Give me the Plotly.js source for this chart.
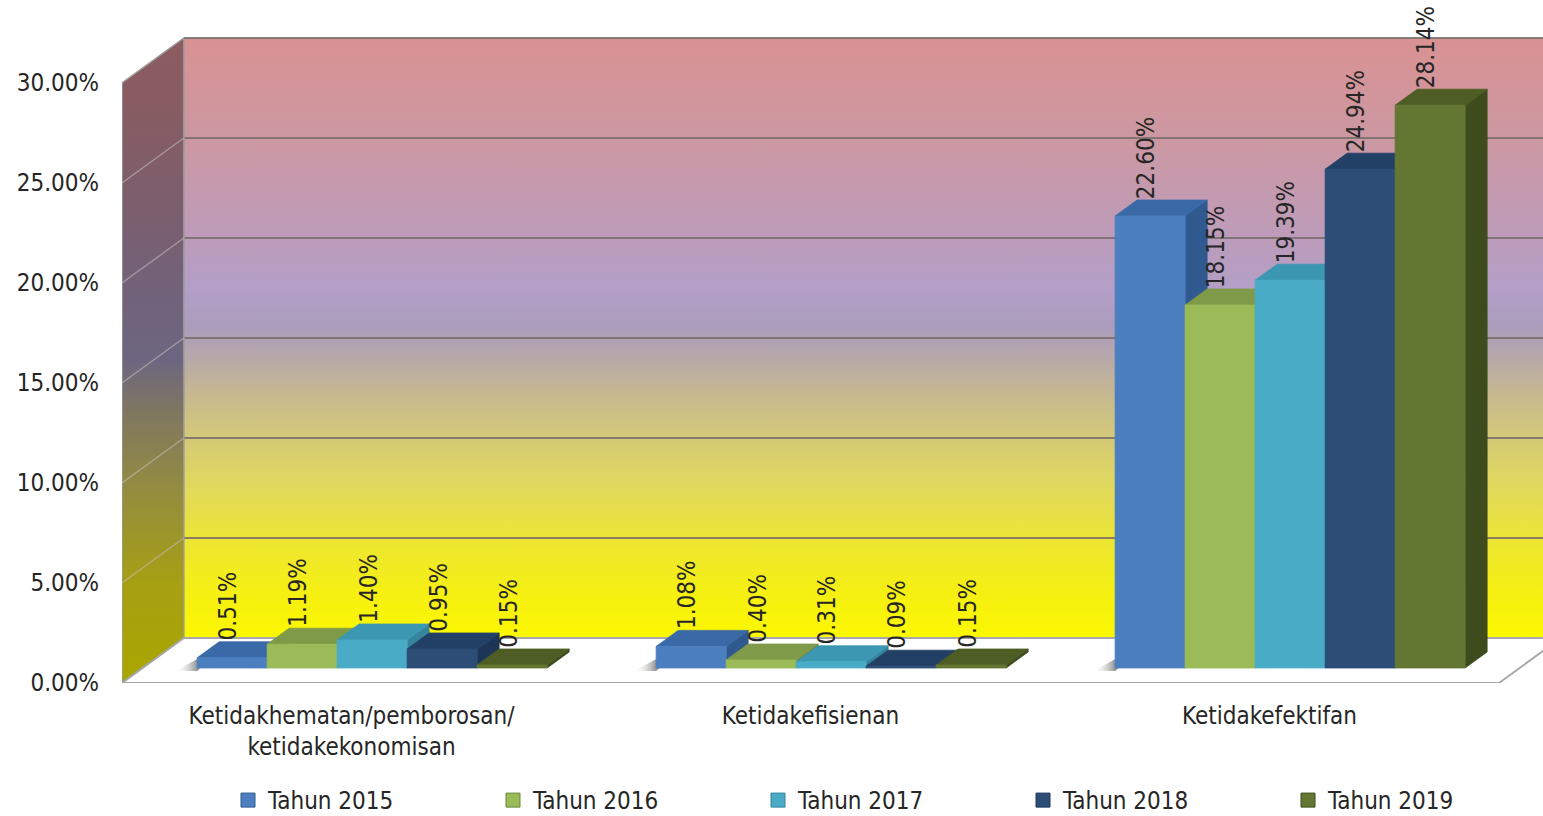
<!DOCTYPE html>
<html>
<head>
<meta charset="utf-8">
<script src="https://cdn.plot.ly/plotly-3.0.1.min.js"></script>
<style>
  html, body { margin: 0; padding: 0; background: #ffffff; }
  #chart { width: 1543px; height: 816px; }
</style>
</head>
<body>
<div id="chart"></div>
<script>
// ---- data ----
const categories = ['Ketidakhematan/pemborosan/<br>ketidakekonomisan', 'Ketidakefisienan', 'Ketidakefektifan'];
const seriesNames = ['Tahun 2015', 'Tahun 2016', 'Tahun 2017', 'Tahun 2018', 'Tahun 2019'];
const tahun2015 = [0.51, 1.08, 22.60];
const tahun2016 = [1.19, 0.40, 18.15];
const tahun2017 = [1.40, 0.31, 19.39];
const tahun2018 = [0.95, 0.09, 24.94];
const tahun2019 = [0.15, 0.15, 28.14];
const yTicks = [0, 5, 10, 15, 20, 25, 30];

const seriesValues = [tahun2015, tahun2016, tahun2017, tahun2018, tahun2019];

// face colours per series: front, top, side
const palette = [
  { front: '#4b7fc0', top: '#3a69a8', side: '#30598f' },
  { front: '#9bbb59', top: '#7f9a48', side: '#6c853a' },
  { front: '#4aabc6', top: '#3b97b2', side: '#33849c' },
  { front: '#2c4d76', top: '#223f65', side: '#1d3658' },
  { front: '#647732', top: '#4d5d24', side: '#3e4b1c' }
];

// ---- geometry of the pseudo-3D frame (axis units) ----
const W = 1543, H = 816;
const M = { l: 122, r: 0, t: 0, b: 133 };
const PX_PER_CAT = 459;          // pixels per category on x
const PX_PER_PCT = 20;           // pixels per percent on y
const plotW = W - M.l - M.r, plotH = H - M.t - M.b;
const xRange = [-0.5, -0.5 + plotW / PX_PER_CAT];
const yRange = [0, plotH / PX_PER_PCT];
const yMax = 30;

// a depth step of k pixels up moves 1.375k pixels to the right
function depth(k) { return { dx: 1.375 * k / PX_PER_CAT, dy: k / PX_PER_PCT }; }
const WALL = depth(45);
const BAR_FRONT = depth(15);
const BAR_BACK = depth(31);
const BAR_DEPTH = { dx: BAR_BACK.dx - BAR_FRONT.dx, dy: BAR_BACK.dy - BAR_FRONT.dy };
const BAR_W = 70 / PX_PER_CAT;
const SHADOW_W = 22 / PX_PER_CAT;
const nSeries = seriesValues.length;

const FONT = 'DejaVu Sans Condensed, DejaVu Sans, sans-serif';
const TXT = '#262626';

const traces = [];

// back wall with vertical gradient
const xFarRight = xRange[1] + 1;
traces.push({
  type: 'scatter', mode: 'none', fill: 'toself', hoverinfo: 'skip', showlegend: false,
  x: [-0.5 + WALL.dx, xFarRight, xFarRight, -0.5 + WALL.dx],
  y: [WALL.dy, WALL.dy, yMax + WALL.dy, yMax + WALL.dy],
  fillgradient: {
    type: 'vertical', start: WALL.dy, stop: yMax + WALL.dy,
    colorscale: [
      [0, '#fcf800'], [0.08, '#f5ef14'], [0.16, '#ede632'], [0.25, '#e1d95c'],
      [0.33, '#d4ca76'], [0.40, '#c9ba8e'], [0.46, '#b8aaa6'], [0.52, '#ab9cbc'],
      [0.58, '#b39fc7'], [0.66, '#bc9cbb'], [0.75, '#c59aae'], [0.83, '#cc98a2'],
      [0.92, '#d3959a'], [1, '#d99292']
    ]
  }
});

// back wall grid lines
{
  const gx = [], gy = [];
  yTicks.forEach(v => { gx.push(-0.5 + WALL.dx, xFarRight, null); gy.push(v + WALL.dy, v + WALL.dy, null); });
  traces.push({
    type: 'scatter', mode: 'lines', hoverinfo: 'skip', showlegend: false,
    x: gx, y: gy, line: { color: 'rgba(120,108,108,0.85)', width: 2 }
  });
}

// left side wall
traces.push({
  type: 'scatter', mode: 'lines', fill: 'toself', hoverinfo: 'skip', showlegend: false,
  x: [-0.5, -0.5, -0.5 + WALL.dx, -0.5 + WALL.dx, -0.5],
  y: [0, yMax, yMax + WALL.dy, WALL.dy, 0],
  line: { color: '#9a9a9a', width: 1.5 },
  fillgradient: {
    type: 'vertical', start: 0, stop: yMax + WALL.dy,
    colorscale: [
      [0, '#aaa600'], [0.15, '#a6a012'], [0.3, '#948c40'], [0.42, '#7f7760'],
      [0.5, '#6d6680'], [0.6, '#71627a'], [0.75, '#7c5e6c'], [0.9, '#885c62'], [1, '#8c5c60']
    ]
  }
});

// side wall grid lines
{
  const gx = [], gy = [];
  yTicks.slice(1, -1).forEach(v => { gx.push(-0.5, -0.5 + WALL.dx, null); gy.push(v, v + WALL.dy, null); });
  traces.push({
    type: 'scatter', mode: 'lines', hoverinfo: 'skip', showlegend: false,
    x: gx, y: gy, line: { color: 'rgba(200,190,190,0.55)', width: 1.5 }
  });
}

// floor
const xFrontRight = xRange[0] + categories.length;
traces.push({
  type: 'scatter', mode: 'lines', fill: 'toself', hoverinfo: 'skip', showlegend: false,
  x: [-0.5, xFrontRight, xFrontRight + WALL.dx, -0.5 + WALL.dx, -0.5],
  y: [0, 0, WALL.dy, WALL.dy, 0],
  fillcolor: '#ffffff',
  line: { color: '#a8a8a8', width: 2 }
});

// soft shadow cast on the floor left of each bar group
categories.forEach((_, i) => {
  const xL = i + BAR_FRONT.dx - (nSeries / 2) * BAR_W;
  const y0 = BAR_FRONT.dy;
  traces.push({
    type: 'scatter', mode: 'none', fill: 'toself', hoverinfo: 'skip', showlegend: false,
    x: [xL - SHADOW_W, xL, xL + BAR_DEPTH.dx, xL + BAR_DEPTH.dx - SHADOW_W * 0.4],
    y: [y0 - 0.15, y0 - 0.15, y0 + BAR_DEPTH.dy, y0 + BAR_DEPTH.dy],
    fillgradient: {
      type: 'horizontal', start: xL - SHADOW_W, stop: xL,
      colorscale: [[0, 'rgba(255,255,255,0)'], [0.6, 'rgba(170,170,170,0.5)'], [1, 'rgba(120,120,120,0.8)']]
    }
  });
});

// bars: side, top, front per series, drawn left to right
seriesValues.forEach((vals, j) => {
  const side = { x: [], y: [] }, top = { x: [], y: [] }, front = { x: [], y: [] };
  vals.forEach((v, i) => {
    const xL = i + BAR_FRONT.dx - (nSeries / 2) * BAR_W + j * BAR_W;
    const xR = xL + BAR_W;
    const y0 = BAR_FRONT.dy, y1 = BAR_FRONT.dy + v;
    side.x.push(xR, xR + BAR_DEPTH.dx, xR + BAR_DEPTH.dx, xR, xR, null);
    side.y.push(y0, y0 + BAR_DEPTH.dy, y1 + BAR_DEPTH.dy, y1, y0, null);
    top.x.push(xL, xR, xR + BAR_DEPTH.dx, xL + BAR_DEPTH.dx, xL, null);
    top.y.push(y1, y1, y1 + BAR_DEPTH.dy, y1 + BAR_DEPTH.dy, y1, null);
    front.x.push(xL, xR, xR, xL, xL, null);
    front.y.push(y0, y0, y1, y1, y0, null);
  });
  const c = palette[j];
  [[side, c.side], [top, c.top], [front, c.front]].forEach(([p, col]) => {
    traces.push({
      type: 'scatter', mode: 'lines', fill: 'toself', hoverinfo: 'skip', showlegend: false,
      x: p.x, y: p.y, fillcolor: col, line: { color: col, width: 0.8 }
    });
  });
});

// legend entries
seriesNames.forEach((name, j) => {
  traces.push({
    type: 'scatter', mode: 'markers', name: name, x: [null], y: [null],
    marker: { symbol: 'square', size: 14, color: palette[j].front, line: { color: palette[j].side, width: 1 } }
  });
});

// value labels above each bar
const annotations = [];
seriesValues.forEach((vals, j) => {
  vals.forEach((v, i) => {
    const xL = i + BAR_FRONT.dx - (nSeries / 2) * BAR_W + j * BAR_W;
    annotations.push({
      x: xL + BAR_W / 2 - 4 / PX_PER_CAT, y: v + BAR_BACK.dy,
      xref: 'x', yref: 'y', text: v.toFixed(2) + '%',
      textangle: -90, showarrow: false, xanchor: 'center', yanchor: 'bottom',
      font: { family: FONT, size: 24, color: TXT }, borderpad: 0
    });
  });
});

const layout = {
  width: W, height: H, margin: M,
  paper_bgcolor: '#ffffff', plot_bgcolor: '#ffffff',
  showlegend: true,
  font: { family: FONT, size: 24, color: TXT },
  xaxis: {
    range: xRange, tickvals: categories.map((_, i) => i), ticktext: categories,
    showgrid: false, zeroline: false, showline: false, ticks: '', ticklabelstandoff: 16,
    tickfont: { family: FONT, size: 24, color: TXT }, fixedrange: true
  },
  yaxis: {
    range: yRange, tickvals: yTicks, ticktext: yTicks.map(v => v.toFixed(2) + '%'),
    showgrid: false, zeroline: false, showline: false, ticks: '', ticklabelstandoff: 22,
    tickfont: { family: FONT, size: 24, color: TXT }, fixedrange: true
  },
  legend: {
    orientation: 'h', xref: 'container', yref: 'container',
    x: 228 / W, xanchor: 'left', y: (H - 778) / H, yanchor: 'top',
    entrywidth: 220, entrywidthmode: 'pixels',
    font: { family: FONT, size: 24, color: TXT }, bgcolor: 'rgba(0,0,0,0)'
  },
  annotations: annotations
};

Plotly.newPlot('chart', traces, layout, { displayModeBar: false, staticPlot: true });
</script>
</body>
</html>
